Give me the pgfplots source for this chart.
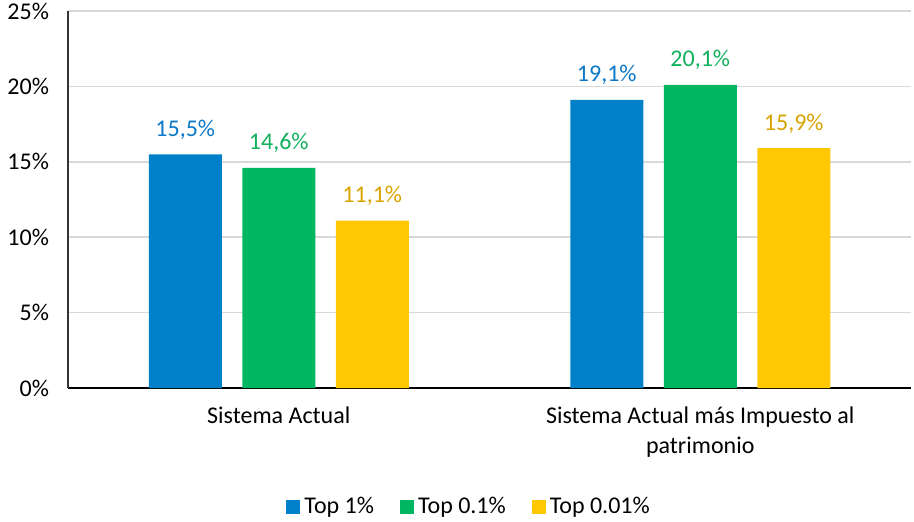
\documentclass[border=0pt]{standalone}
\usepackage{pgfplots}
\pgfplotsset{compat=1.18}
\usepackage{fontspec}
\setmainfont{Carlito}
\definecolor{cblue}{HTML}{0080C8}
\definecolor{cgreen}{HTML}{00B661}
\definecolor{cyellow}{HTML}{FFC800}
\definecolor{lblue}{HTML}{0A78C8}
\definecolor{lgreen}{HTML}{10B05C}
\definecolor{lyellow}{HTML}{D9A300}
\definecolor{gridgray}{HTML}{D9D9D9}
\begin{document}
\begin{tikzpicture}
\useasboundingbox (-34pt,-66.5pt) rectangle (423pt,194pt);
\begin{axis}[
  at={(0,0)}, anchor=south west,
  scale only axis,
  width=421.5pt, height=188.5pt,
  ybar=10.25pt, bar width=36.5pt,
  xmin=-0.5, xmax=1.5, enlarge x limits=false,
  ymin=0, ymax=25,
  xtick={0,1},
  xticklabels={Sistema Actual, {Sistema Actual más Impuesto al\\patrimonio}},
  xticklabel style={align=center, yshift=-6pt},
  ytick={0,5,10,15,20,25},
  yticklabel={\pgfmathprintnumber{\tick}\%},
  yticklabel style={xshift=-6pt},
  /pgf/number format/assume math mode=true,
  major tick length=0pt,
  ymajorgrids=true, xmajorgrids=false,
  major grid style={draw=gridgray, line width=0.75pt},
  axis x line*=bottom, axis y line*=left,
  x axis line style={black, line width=1pt, -},
  y axis line style={black!80, line width=0.6pt, -},
  tick label style={font=\fontsize{12}{15}\selectfont},
  nodes near coords={\pgfmathprintnumber[fixed,fixed zerofill,precision=1,use comma]{\pgfplotspointmeta}\%},
  every node near coord/.append style={font=\fontsize{12}{14}\selectfont, yshift=4pt},
  legend style={at={(0.477,-0.316)}, anchor=center, draw=none, legend columns=3,
    font=\fontsize{12}{14}\selectfont, /tikz/every even column/.append style={column sep=11pt}},
  legend image code/.code={\fill[#1] (0pt,-3.5pt) rectangle (7pt,3.5pt);},
]
\addplot[fill=cblue, draw=none, every node near coord/.append style={text=lblue}] coordinates {(0,15.5) (1,19.1)};
\addplot[fill=cgreen, draw=none, every node near coord/.append style={text=lgreen}] coordinates {(0,14.6) (1,20.1)};
\addplot[fill=cyellow, draw=none, every node near coord/.append style={text=lyellow}] coordinates {(0,11.1) (1,15.9)};
\legend{Top 1\%, Top 0.1\%, Top 0.01\%}
\end{axis}
\end{tikzpicture}
\end{document}
